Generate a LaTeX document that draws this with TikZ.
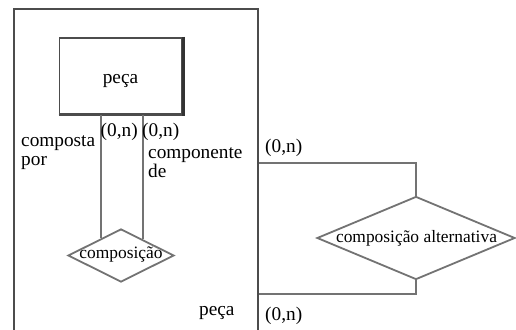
\documentclass[tikz,border=0pt]{standalone}
\usepackage{fontspec}
\setmainfont{Liberation Serif}
\usetikzlibrary{shapes.geometric,calc}
\definecolor{lnc}{gray}{0.45}
\definecolor{boxc}{gray}{0.3}
\tikzset{
  lbl/.style={font=\fontsize{19.3}{19.3}\selectfont, inner sep=0, anchor=base west, align=left},
  dtxt/.style={font=\fontsize{17.4}{17.4}\selectfont, inner sep=0, anchor=base},
  dia/.style={diamond, draw=lnc, line width=1.8, inner sep=0},
  conn/.style={draw=lnc, line width=2},
}
\begin{document}
\begin{tikzpicture}[x=1pt,y=-1pt]
\useasboundingbox (0,0) rectangle (516,329);
\fill[white] (0,0) rectangle (516,329);
% outer aggregation box
\node[draw=boxc, line width=1.8, minimum width=244, minimum height=345, anchor=north west, inner sep=0] (outer) at (13,8) {};
% entity
\node[draw=boxc, line width=1.6, minimum width=122, minimum height=76, anchor=north west, inner sep=0] (peca) at (58.5,37) {};
\draw[boxc, line width=2.2] (peca.south west) -- (peca.south east);
\draw[black!80, line width=3.6] ($(peca.north east)+(1.2,0)$) -- ($(peca.south east)+(1.2,1)$);
\node[dtxt, font=\fontsize{19.3}{19.3}\selectfont] (pecat) at (120.5,83) {peça};
% composicao diamond
\node[dia, minimum width=106, minimum height=53] (comp) at (121,255.5) {};
\node[dtxt] (compt) at (121,258) {composição};
\coordinate (cl) at ($(comp.west)!0.623!(comp.north)$);
\coordinate (cr) at ($(comp.north)!0.406!(comp.east)$);
\draw[conn] (cl |- peca.south) -- (cl);
\draw[conn] (cr |- peca.south) -- (cr);
% labels
\node[lbl] (c1) at (100.5,136.5) {(0,n)};
\node[lbl] (c2) at (142,136.5) {(0,n)};
\node[lbl] (cp) at (21,165) {composta\\[-1pt]por};
\node[lbl] (cd) at (148,177) {componente\\[-1pt]de};
\node[lbl] (pl) at (199,315) {peça};
% alternative composition
\node[dia, minimum width=198, minimum height=83] (alt) at (416,238) {};
\node[dtxt] (altt) at (416.5,242) {composição alternativa};
\coordinate (ty) at (0,163);
\coordinate (by) at (0,294);
\draw[conn] (alt.north) |- (outer.east |- ty);
\draw[conn] (alt.south) |- (outer.east |- by);
\node[lbl] (c3) at (265,152) {(0,n)};
\node[lbl] (c4) at (265,320) {(0,n)};
\end{tikzpicture}
\end{document}
